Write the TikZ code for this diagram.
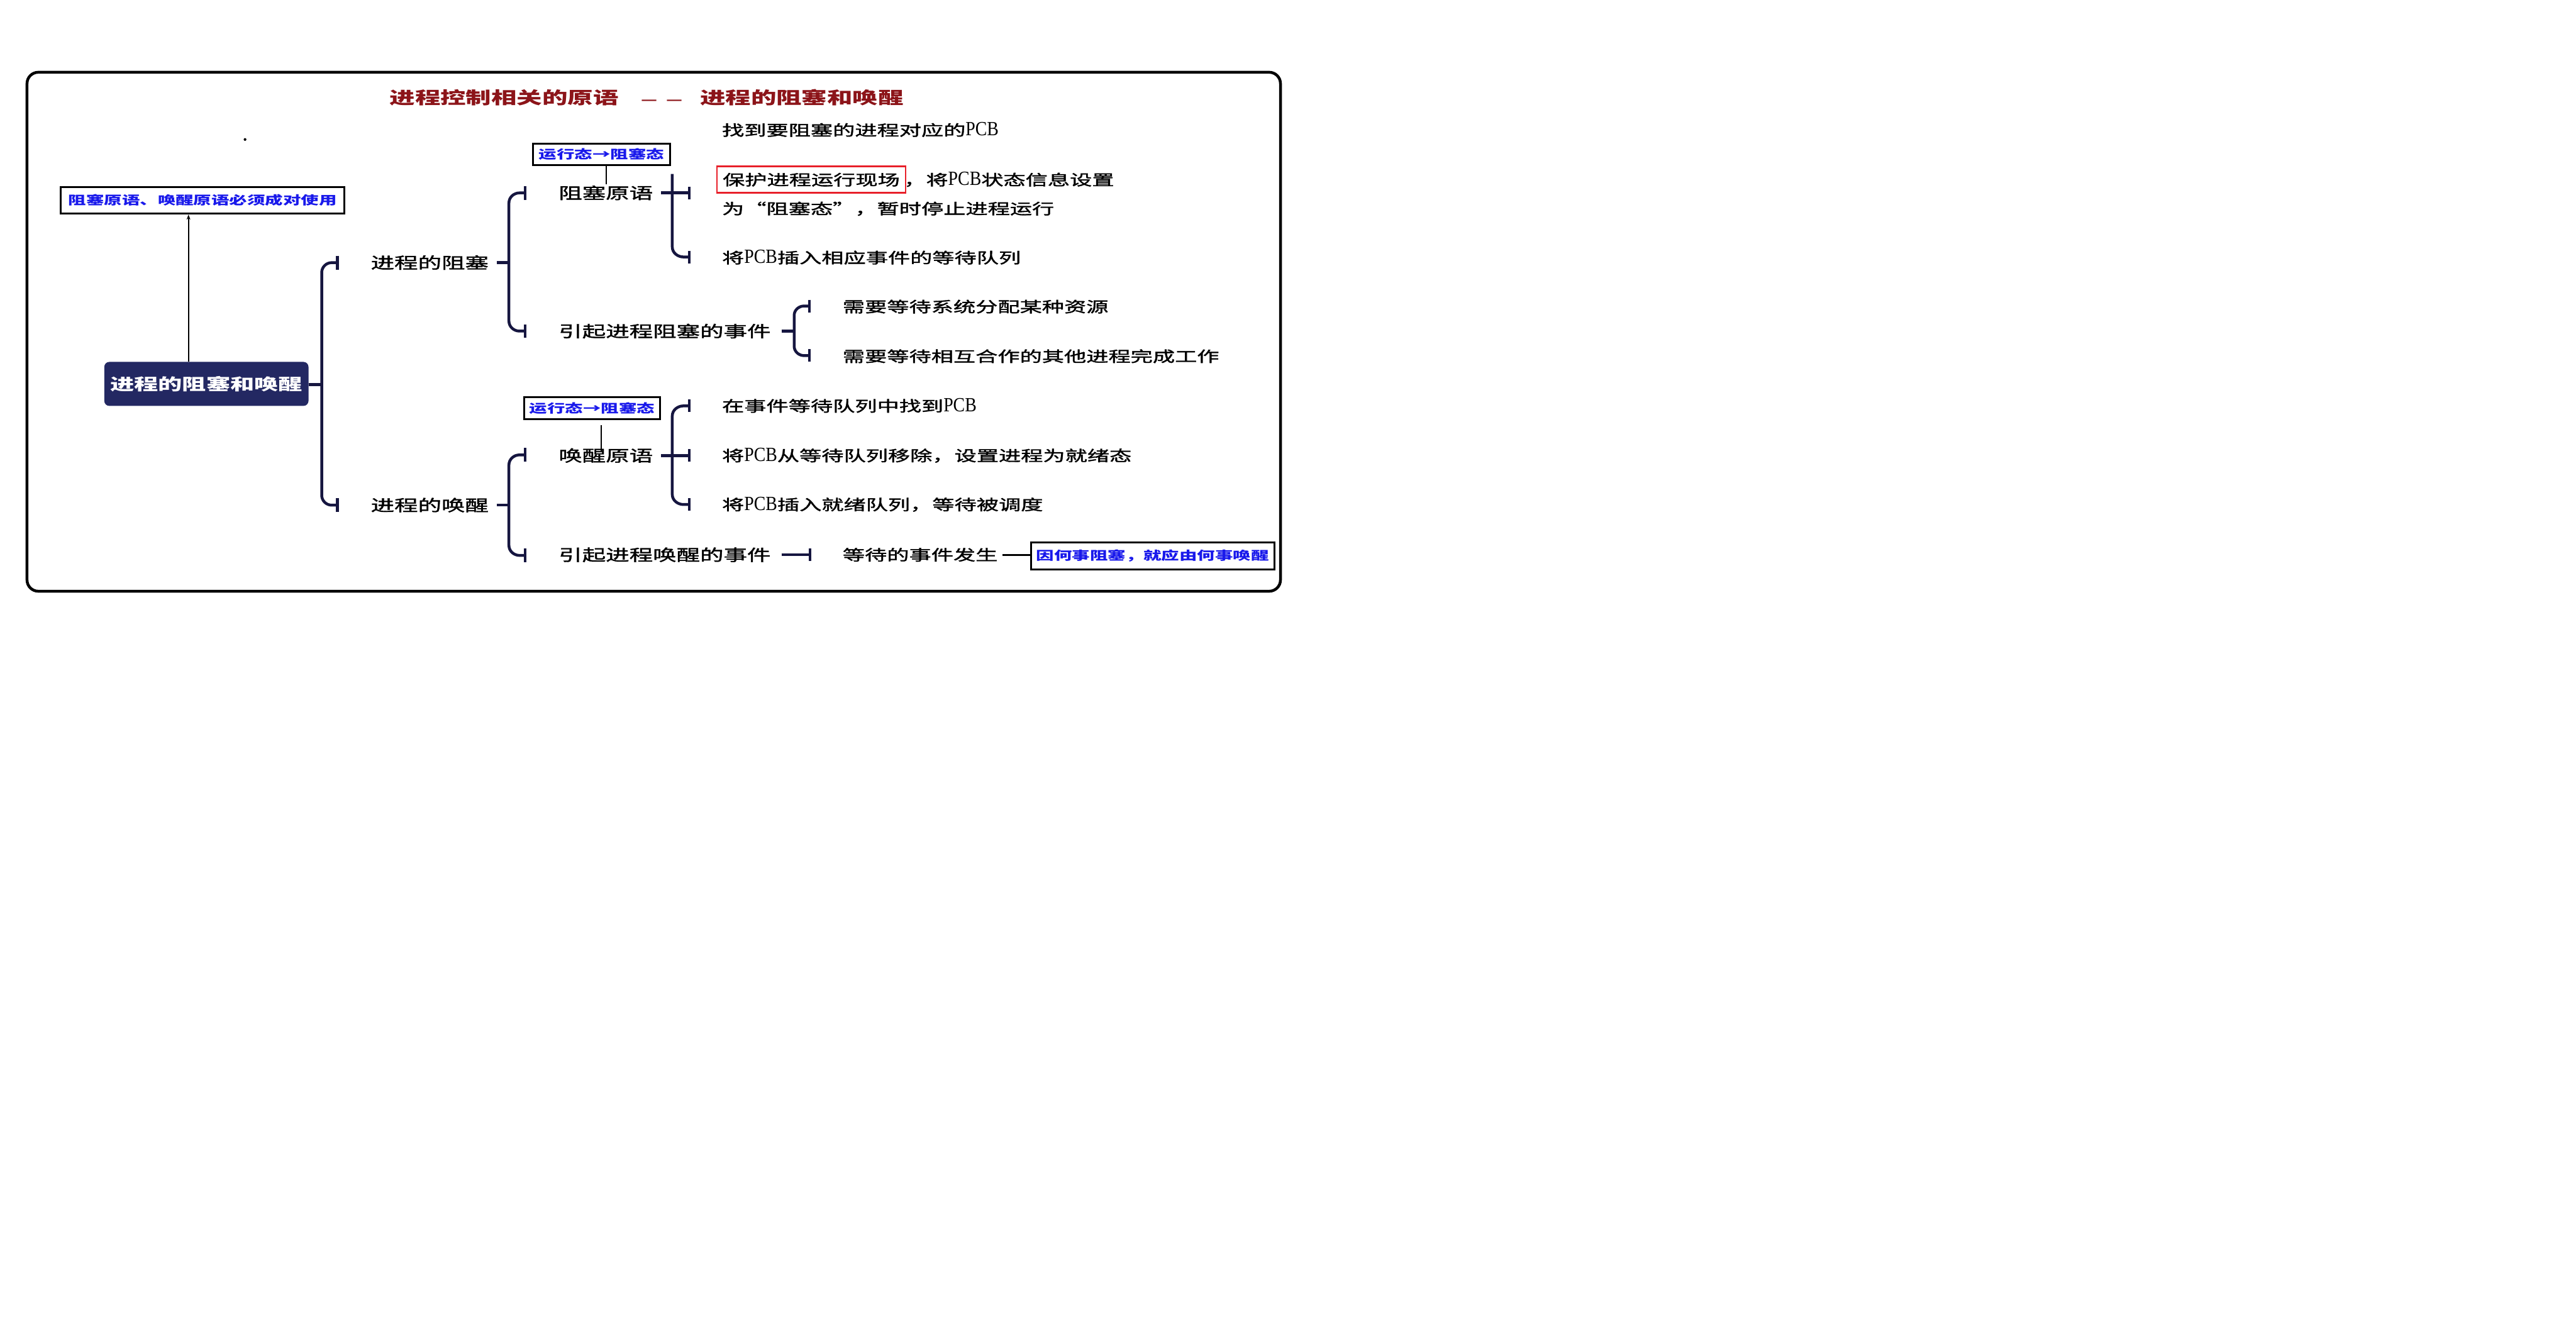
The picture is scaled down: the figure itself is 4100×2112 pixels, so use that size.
\documentclass[tikz,border=0pt]{standalone}
\usepackage{fontspec}
\usetikzlibrary{arrows.meta}
\newfontfamily\cjk[FakeStretch=1.5]{Noto Sans CJK SC}
\newfontfamily\cjkm[FakeStretch=1.5,FakeBold=1.6]{Noto Sans CJK SC}
\newfontfamily\pcbfont[FakeStretch=0.87]{Liberation Serif}
\newcommand\PCB{{\pcbfont\fontsize{32}{32}\selectfont PCB}}
\definecolor{titlered}{RGB}{140,20,25}
\definecolor{bluetxt}{RGB}{25,25,235}
\definecolor{navy}{RGB}{35,40,98}
\definecolor{bracecol}{RGB}{22,22,64}
\definecolor{boxred}{RGB}{232,32,42}
\tikzset{
  lvl/.style={anchor=west, inner sep=0pt, font=\cjkm\fontsize{25}{25}\selectfont, text height=22pt, text depth=3pt},
  leaf/.style={anchor=west, inner sep=0pt, font=\cjkm\fontsize{23.5}{23.5}\selectfont, text height=20.7pt, text depth=2.8pt},
  ttl/.style={anchor=west, inner sep=0pt, text=titlered, font=\cjk\bfseries\fontsize{27}{27}\selectfont, text height=23.8pt, text depth=3.2pt},
  bluebox/.style={draw=black, line width=3pt, inner sep=0pt, text=bluetxt, font=\cjk\bfseries\fontsize{19}{19}\selectfont, text height=16.7pt, text depth=2.3pt},
  brace/.style={draw=bracecol, line width=4.5pt},
  thinline/.style={draw=black, line width=2pt},
}
\begin{document}
\begin{tikzpicture}[x=1pt,y=-1pt]
\useasboundingbox[fill=white] (0,0) rectangle (4100,2112);
% frame
\draw[line width=4.5pt, rounded corners=18pt] (43,115) rectangle (2038,941);
% title
\node[ttl] (t1) at (620,155) {进程控制相关的原语};
\node[ttl, font=\cjk\bfseries\fontsize{19}{19}\selectfont] (t2) at (1020,155) {—\hspace{14pt}—};
\node[ttl] (t3) at (1114,155) {进程的阻塞和唤醒};
% stray dot
\fill (390,222) circle (2.2pt);
% root
\node[fill=navy, rounded corners=8pt, minimum width=325pt, minimum height=70pt, inner sep=0pt,
      text=white, font=\cjk\bfseries\fontsize{25.5}{25.5}\selectfont, text height=22.4pt, text depth=3.1pt]
      (root) at (328.5,611) {进程的阻塞和唤醒};
% pair note
\node[bluebox, minimum width=451pt, minimum height=42pt] (note) at (322.5,319) {阻塞原语、唤醒原语必须成对使用};
\coordinate (ra) at (300,576);
\draw[thinline, -{Stealth[length=8pt,width=6pt]}] (ra) -- (ra |- note.south);
% level 1
\node[lvl] (blk) at (590,418) {进程的阻塞};
\node[lvl] (wak) at (590,804) {进程的唤醒};
% level 2
\node[lvl] (bp) at (889,307) {阻塞原语};
\node[lvl] (be) at (889,527) {引起进程阻塞的事件};
\node[lvl] (wp) at (889,725) {唤醒原语};
\node[lvl] (we) at (889,883) {引起进程唤醒的事件};
% state boxes
\node[bluebox, minimum width=219pt, minimum height=34pt] (s1) at (957.5,246) {运行态→阻塞态};
\node[bluebox, minimum width=217pt, minimum height=35pt] (s2) at (942.5,649.5) {运行态→阻塞态};
\coordinate (s1a) at (965,263);
\draw[thinline] (s1a) -- (965,293);
\coordinate (s2a) at (957,677);
\draw[thinline] (s2a) -- (957,718);
% leaves of blocking primitive
\node[leaf] (l1) at (1149,207) {找到要阻塞的进程对应的\PCB};
\node[leaf, draw=boxred, line width=2.5pt, inner xsep=9pt, minimum height=42pt] (l2a) at (1140,286) {保护进程运行现场};
\node[leaf] (l2b) at ([xshift=-4pt]l2a.east) {，将\PCB 状态信息设置};
\node[leaf] (l2c) at (1149,332) {为“阻塞态”，暂时停止进程运行};
\node[leaf] (l3) at (1149,410) {将\PCB 插入相应事件的等待队列};
% leaves of blocking events
\node[leaf] (e1) at (1341,488) {需要等待系统分配某种资源};
\node[leaf] (e2) at (1341,567) {需要等待相互合作的其他进程完成工作};
% leaves of wakeup primitive
\node[leaf] (w1) at (1149,646) {在事件等待队列中找到\PCB};
\node[leaf] (w2) at (1149,725) {将\PCB 从等待队列移除，设置进程为就绪态};
\node[leaf] (w3) at (1149,803) {将\PCB 插入就绪队列，等待被调度};
% wakeup event
\node[leaf] (x1) at (1341,883) {等待的事件发生};
\node[bluebox, minimum width=387pt, minimum height=43pt] (why) at (1834.5,884.5) {因何事阻塞，就应由何事唤醒};
\draw[line width=3.3pt] (x1.east) ++(7,0) -- (why.west |- 0,883);

% ---- braces ----
% root brace
\draw[brace] (root.east |- 0,612) -- (512,612);
\draw[brace] (537,418) -- (528,418) to[out=180,in=90] (512,434) -- (512,788) to[out=-90,in=180] (528,804) -- (537,804);
\draw[brace] (537,407) -- (537,429);
\draw[brace] (537,793) -- (537,815);
% blocking brace
\draw[brace] (blk.east) ++(13,0) -- (810,418);
\draw[brace] (836,307) -- (827,307) to[out=180,in=90] (810,323) -- (810,511) to[out=-90,in=180] (827,527) -- (836,527);
\draw[brace] (836,296) -- (836,318);
\draw[brace] (836,516) -- (836,538);
% blocking primitive brace
\draw[brace] (bp.east) ++(13,0) -- (1097,307);
\draw[brace] (1070,277) -- (1070,393) to[out=-90,in=180] (1088,409) -- (1097,409);
\draw[brace] (1097,297) -- (1097,317);
\draw[brace] (1097,399) -- (1097,419);
% blocking events brace
\draw[brace] (be.east) ++(17,0) -- (1264,527);
\draw[brace] (1288,487) -- (1280,487) to[out=180,in=90] (1264,502) -- (1264,551) to[out=-90,in=180] (1280,566) -- (1288,566);
\draw[brace] (1288,477) -- (1288,497);
\draw[brace] (1288,556) -- (1288,576);
% wakeup brace
\draw[brace] (wak.east) ++(13,0) -- (810,804);
\draw[brace] (836,724) -- (827,724) to[out=180,in=90] (810,740) -- (810,868) to[out=-90,in=180] (827,884) -- (836,884);
\draw[brace] (836,713) -- (836,735);
\draw[brace] (836,873) -- (836,895);
% wakeup primitive brace
\draw[brace] (wp.east) ++(13,0) -- (1097,725);
\draw[brace] (1097,646) -- (1088,646) to[out=180,in=90] (1070,662) -- (1070,787) to[out=-90,in=180] (1088,803) -- (1097,803);
\draw[brace] (1097,636) -- (1097,656);
\draw[brace] (1097,715) -- (1097,735);
\draw[brace] (1097,793) -- (1097,813);
% wakeup event connector
\draw[brace] (we.east) ++(17,0) -- (1289,883);
\draw[brace] (1289,873) -- (1289,893);
\end{tikzpicture}
\end{document}
